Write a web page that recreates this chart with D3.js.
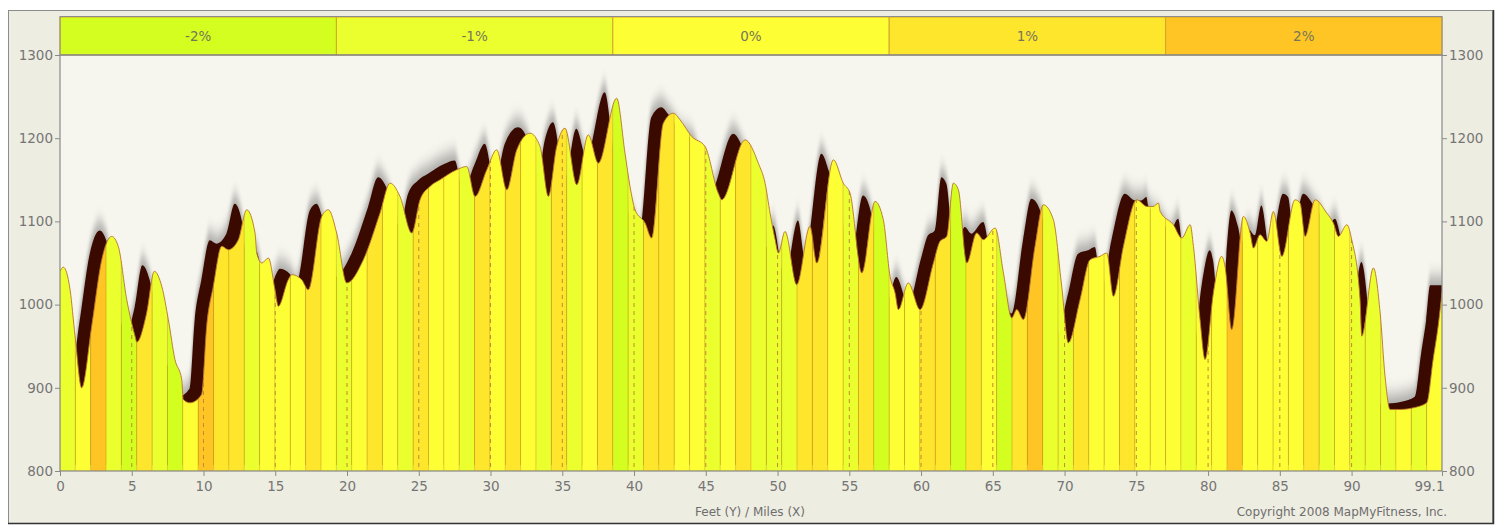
<!DOCTYPE html>
<html lang="en">
<head>
  <meta charset="utf-8">
  <title>Elevation profile</title>
  <style>
    body {
      margin:0;
      background-color:#fff;
      font-family:"DejaVu Sans", sans-serif;
    }
    #chart text {
      font-family:"DejaVu Sans", sans-serif;
    }
  </style>
</head>
<body>
  <div id="chart"></div>
  <script src="https://d3js.org/d3.v7.min.js"></script>
  <script>
    // profile: miles along the route and elevation in feet
    var miles = [0, 0.23, 0.70, 1.05, 1.51, 2.21, 2.91, 3.60, 4.06, 4.65, 5.23, 5.35, 6.04, 6.57, 7.09, 7.55,
      8.01, 8.48, 8.59, 9.06, 9.87, 10.22, 10.68, 11.27, 11.73, 12.43, 13.01, 13.59, 13.71, 14.06, 14.52,
      14.98, 15.21, 15.91, 16.15, 16.84, 17.30, 18.24, 18.70, 19.28, 19.98, 21.14, 22.30, 23.00, 23.69,
      24.51, 25.09, 25.78, 26.48, 27.64, 28.34, 28.92, 29.74, 30.43, 31.13, 31.83, 32.75, 33.45, 34.03,
      34.61, 35.19, 36.01, 36.81, 37.51, 38.79, 39.37, 39.72, 40.07, 40.77, 41.23, 42.04, 42.74, 43.21,
      44.02, 44.95, 45.87, 46.11, 47.74, 48.66, 49.13, 49.48, 49.83, 50.06, 50.52, 51.34, 52.26, 52.73,
      53.89, 54.58, 55.05, 55.87, 56.79, 57.37, 57.84, 58.19, 58.42, 59.11, 59.93, 60.86, 61.32, 61.79,
      62.25, 62.60, 63.18, 63.88, 64.34, 65.16, 65.74, 66.32, 66.67, 67.13, 67.94, 68.52, 69.22, 69.80,
      70.26, 71.08, 71.78, 72.47, 72.94, 73.40, 74.10, 75.03, 75.73, 76.19, 76.54, 76.66, 77.58, 78.17,
      78.75, 78.98, 79.44, 79.79, 80.37, 80.95, 81.18, 81.65, 82.46, 82.93, 83.16, 83.62, 84.09, 84.55,
      85.14, 86.06, 86.41, 86.76, 87.46, 88.27, 88.73, 89.08, 89.67, 90.01, 90.59, 90.71, 91.52, 91.99,
      92.33, 92.68, 93.38, 94.31, 95.24, 95.68, 96.03, 96.31];
    var feet = [1040, 1045, 1018, 962, 900, 974, 1054, 1082, 1070, 1006, 962, 955, 990, 1040, 1022, 982,
      934, 910, 886, 882, 892, 974, 1022, 1070, 1066, 1078, 1114, 1086, 1062, 1050, 1056,
      1018, 998, 1030, 1036, 1030, 1018, 1106, 1114, 1086, 1026, 1054, 1110, 1146, 1130,
      1086, 1126, 1142, 1150, 1162, 1166, 1130, 1162, 1186, 1138, 1186, 1206, 1190, 1130,
      1190, 1212, 1144, 1204, 1170, 1248, 1182, 1142, 1114, 1098, 1080, 1218, 1230, 1222,
      1202, 1190, 1134, 1126, 1198, 1170, 1146, 1110, 1078, 1062, 1088, 1024, 1094, 1050,
      1174, 1146, 1134, 1038, 1124, 1102, 1034, 1014, 994, 1026, 994, 1050, 1076, 1082,
      1146, 1138, 1050, 1086, 1078, 1092, 1038, 984, 994, 982, 1070, 1120, 1102, 1022,
      954, 1006, 1054, 1058, 1062, 1010, 1070, 1126, 1118, 1118, 1122, 1112, 1096, 1080,
      1096, 1070, 982, 934, 1014, 1058, 1046, 970, 1106, 1086, 1068, 1084, 1076, 1112,
      1058, 1126, 1122, 1082, 1126, 1110, 1098, 1082, 1096, 1078, 1006, 962, 1044, 990,
      914, 874, 874, 876, 882, 934, 974, 1016];

    // grade of each equal-width segment, in percent
    var bandGrades = [-1, 0, 2, -1, -2, 1, -1, -2, 0, 2, 1, 1, -1, 0, 0, 0, 1, 0, -1, 0,
      1, 0, -1, 1, 0, 0, -1, 1, 0, 1, 0, -1, 1, -1, 0, 1, -2, -1, 1, 1,
      0, 0, -1, 0, 1, -1, -1, -1, 1, 1, 0, -1, 1, -2, 0, 0, 1, 1, -2, 1,
      0, -2, 1, 2, -1, -1, 1, 0, 0, 1, 0, 0, 0, -1, 0, 0, 2, 0, 0, 0,
      0, 1, -1, 0, -1, -1, -1, 0, -1, 0];

    var legendGrades = [-2, -1, 0, 1, 2];
    var legendLabels = ["-2%", "-1%", "0%", "1%", "2%"];

    var yTicks = [800, 900, 1000, 1100, 1200, 1300];
    var xTicks = [0, 5, 10, 15, 20, 25, 30, 35, 40, 45, 50, 55, 60, 65, 70, 75, 80, 85, 90];
    var xEnd = 96.3;          // where the axis stops
    var xEndLabel = "99.1";   // label printed at the axis end

    var W = 1495, H = 528;
    var pL = 60, pR = 1442, pT = 55, pB = 471;

    var svg = d3.select("#chart").append("svg")
        .attr("width", W)
        .attr("height", H);

    var defs = svg.append("defs");
    defs.append("clipPath").attr("id", "plotClip")
      .append("rect")
        .attr("x", pL).attr("y", pT)
        .attr("width", pR - pL).attr("height", pB - pT);

    var blur = defs.append("filter").attr("id", "haze")
        .attr("x", "-5%").attr("y", "-30%").attr("width", "110%").attr("height", "160%");
    blur.append("feGaussianBlur").attr("stdDeviation", "1.2 8");

    var x = d3.scaleLinear().domain([0, xEnd]).range([pL, pR]);
    var y = d3.scaleLinear().domain([800, 1300]).range([pB, pT]);

    var grade = d3.scaleOrdinal()
        .domain(legendGrades)
        .range(["#d4fe20", "#ebfe2e", "#fefe34", "#fee62d", "#fec524"]);

    var pts = miles.map(function(m, i){ return [m, feet[i]]; });
    // the shadow copy runs on flat past the axis end so it fills the right edge
    var shadowPts = pts.concat([[xEnd + 2, feet[feet.length - 1]]]);

    var area = d3.area()
        .x(function(d){ return x(d[0]); })
        .y0(pB)
        .y1(function(d){ return y(d[1]); })
        .curve(d3.curveMonotoneX);

    var line = d3.line()
        .x(function(d){ return x(d[0]); })
        .y(function(d){ return y(d[1]); })
        .curve(d3.curveMonotoneX);

    // outer frame
    svg.append("rect")
        .attr("x", 8.5).attr("y", 10.5)
        .attr("width", 1484).attr("height", 513)
        .attr("fill", "#eeede2")
        .attr("stroke", "#8c8c8c");
    svg.append("path")
        .attr("d", "M8,523.5H1493.5V10")
        .attr("fill", "none")
        .attr("stroke", "#333")
        .attr("stroke-width", 1.5);

    // plot background
    svg.append("rect")
        .attr("x", pL).attr("y", pT)
        .attr("width", pR - pL).attr("height", pB - pT)
        .attr("fill", "#f6f5ee");

    var plot = svg.append("g").attr("clip-path", "url(#plotClip)");

    // grey haze above the shadow
    plot.append("path")
        .attr("d", area(shadowPts))
        .attr("transform", "translate(-12,-14)")
        .attr("fill", "#666")
        .attr("opacity", 0.55)
        .attr("filter", "url(#haze)");

    // dark shadow copy of the profile
    plot.append("path")
        .attr("d", area(shadowPts))
        .attr("transform", "translate(-12,-6)")
        .attr("fill", "#3a0900");

    // grade bands, clipped to the profile
    defs.append("clipPath").attr("id", "profileClip")
      .append("path")
        .attr("d", area(pts));

    var bandW = xEnd / bandGrades.length;
    var bands = plot.append("g").attr("clip-path", "url(#profileClip)");

    bands.selectAll("rect")
        .data(bandGrades)
        .enter().append("rect")
        .attr("x", function(d, i){ return x(i * bandW); })
        .attr("y", pT)
        .attr("width", function(d, i){ return x((i + 1) * bandW) - x(i * bandW); })
        .attr("height", pB - pT)
        .attr("fill", function(d){ return grade(d); })
        .attr("stroke", "rgba(200,150,30,0.3)")
        .attr("stroke-width", 1);

    bands.selectAll("line.mile")
        .data(xTicks.slice(1))
        .enter().append("line")
        .attr("class", "mile")
        .attr("x1", function(d){ return x(d); })
        .attr("x2", function(d){ return x(d); })
        .attr("y1", pT)
        .attr("y2", pB)
        .attr("stroke", "#bf8a3a")
        .attr("stroke-width", 1)
        .attr("stroke-dasharray", "4,4");

    plot.append("path")
        .attr("d", line(pts))
        .attr("fill", "none")
        .attr("stroke", "#b8742a")
        .attr("stroke-width", 0.9);

    // legend strip
    var legW = (pR - pL) / legendGrades.length;
    var legend = svg.append("g");
    legend.selectAll("rect")
        .data(legendGrades)
        .enter().append("rect")
        .attr("x", function(d, i){ return pL + i * legW; })
        .attr("y", 17)
        .attr("width", legW)
        .attr("height", pT - 17)
        .attr("fill", function(d){ return grade(d); })
        .attr("stroke", "#d2a630")
        .attr("stroke-width", 1);
    legend.append("rect")
        .attr("x", pL).attr("y", 16.5)
        .attr("width", pR - pL).attr("height", pT - 16.5)
        .attr("fill", "none")
        .attr("stroke", "#8c8c8c");
    legend.selectAll("text")
        .data(legendLabels)
        .enter().append("text")
        .attr("x", function(d, i){ return pL + (i + 0.5) * legW; })
        .attr("y", 36)
        .attr("dy", "0.36em")
        .attr("text-anchor", "middle")
        .attr("font-size", "13.5px")
        .attr("fill", "#76765a")
        .text(function(d){ return d; });

    // axes
    var axisColor = "#8a8a8a", labelColor = "#757575";

    function styleAxis(g){
      g.select(".domain").remove();
      g.selectAll(".tick line").attr("stroke", axisColor);
      g.selectAll(".tick text")
        .attr("fill", labelColor)
        .attr("font-size", "13.5px")
        .attr("font-family", "DejaVu Sans, sans-serif");
    }

    svg.append("g")
        .attr("transform", "translate(" + pL + ",0)")
        .call(d3.axisLeft(y).tickValues(yTicks).tickSize(5).tickPadding(2).tickFormat(d3.format("d")))
        .call(styleAxis);

    svg.append("g")
        .attr("transform", "translate(" + pR + ",0)")
        .call(d3.axisRight(y).tickValues(yTicks).tickSize(5).tickPadding(2).tickFormat(d3.format("d")))
        .call(styleAxis);

    var xAxis = svg.append("g")
        .attr("transform", "translate(0," + pB + ")")
        .call(d3.axisBottom(x).tickValues(xTicks.concat([xEnd])).tickSize(5).tickPadding(5)
          .tickFormat(function(d){ return d === xEnd ? xEndLabel : d; }))
        .call(styleAxis);
    xAxis.selectAll(".tick text")
        .filter(function(d){ return d === xEnd; })
        .attr("text-anchor", "end")
        .attr("dx", "2");

    // plot frame lines
    svg.append("rect")
        .attr("x", pL).attr("y", pT)
        .attr("width", pR - pL).attr("height", pB - pT)
        .attr("fill", "none")
        .attr("stroke", axisColor)
        .attr("stroke-width", 1.2);

    svg.append("text")
        .attr("x", 750).attr("y", 516)
        .attr("text-anchor", "middle")
        .attr("font-size", "12px")
        .attr("fill", "#6e6e6e")
        .text("Feet (Y) / Miles (X)");

    svg.append("text")
        .attr("x", 1447).attr("y", 516)
        .attr("text-anchor", "end")
        .attr("font-size", "12px")
        .attr("fill", "#6e6e6e")
        .text("Copyright 2008 MapMyFitness, Inc.");
  </script>
</body>
</html>
